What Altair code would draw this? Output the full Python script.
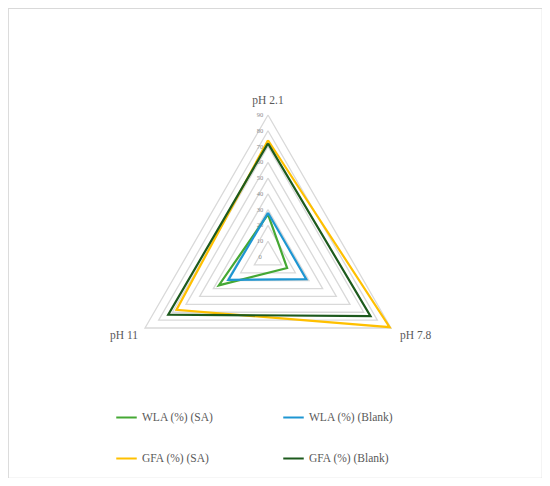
import altair as alt
import pandas as pd

axis_labels = ["pH 2.1", "pH 7.8", "pH 11"]
series_names = ["WLA (%) (SA)", "WLA (%) (Blank)", "GFA (%) (SA)", "GFA (%) (Blank)"]
wla_sa = [27, 14, 36]
wla_blank = [28, 28, 29]
gfa_sa = [74, 89, 67]
gfa_blank = [72, 75, 73]
series_colors = ["#45A834", "#1E96D2", "#FFC000", "#1D5A1D"]
grid_levels = [10, 20, 30, 40, 50, 60, 70, 80, 90]
tick_values = [0, 10, 20, 30, 40, 50, 60, 70, 80, 90]

series_values = [wla_sa, wla_blank, gfa_sa, gfa_blank]

rows = []
for name, vals in zip(series_names, series_values):
    for i in range(len(vals) + 1):
        k = i % len(vals)
        rows.append({"series": name, "order": i, "idx": k, "r": vals[k]})
lines_df = pd.DataFrame(rows)

grows = []
for lv in grid_levels:
    for i in range(4):
        grows.append({"level": lv, "order": i, "idx": i % 3, "r": lv})
grid_df = pd.DataFrame(grows)

ticks_df = pd.DataFrame({"r": tick_values, "label": [str(v) for v in tick_values], "idx": 0})
labels_df = pd.DataFrame({"label": axis_labels, "idx": [0, 1, 2], "r": [90, 90, 90]})

W, H = 534, 470
k = 1.578
cx, cy = 260, 249
xdom = [-cx / k, (W - cx) / k]
ydom = [-(H - cy) / k, cy / k]

xs = alt.Scale(domain=xdom, nice=False, zero=False)
ys = alt.Scale(domain=ydom, nice=False, zero=False)


def polar(ch):
    return ch.transform_calculate(
        ang="datum.idx * 2 * PI / 3",
    ).transform_calculate(
        px="datum.r * sin(datum.ang)",
        py="datum.r * cos(datum.ang)",
    )


grid = polar(alt.Chart(grid_df)).mark_line(color="#D9D9D9", strokeWidth=1.3).encode(
    x=alt.X("px:Q", scale=xs, axis=None),
    y=alt.Y("py:Q", scale=ys, axis=None),
    detail="level:N",
    order="order:Q",
)

ticks = polar(alt.Chart(ticks_df)).mark_text(
    fontSize=6.5, color="#8C8C8C", dx=-8, align="center", baseline="middle", font="Liberation Serif"
).encode(
    x=alt.X("px:Q", scale=xs, axis=None),
    y=alt.Y("py:Q", scale=ys, axis=None),
    text="label:N",
)

lines = polar(alt.Chart(lines_df)).mark_line(strokeWidth=2.2).encode(
    x=alt.X("px:Q", scale=xs, axis=None),
    y=alt.Y("py:Q", scale=ys, axis=None),
    color=alt.Color(
        "series:N",
        scale=alt.Scale(domain=series_names, range=series_colors),
        legend=alt.Legend(
            title=None,
            orient="none",
            legendX=107,
            legendY=398,
            direction="horizontal",
            columns=2,
            columnPadding=65,
            rowPadding=24,
            symbolType="stroke",
            symbolSize=420,
            symbolStrokeWidth=2,
            labelFont="Liberation Serif",
            labelFontSize=11.5,
            labelColor="#595959",
            labelOffset=4,
        ),
    ),
    detail="series:N",
    order="order:Q",
)

label_styles = [
    {"align": "center", "dx": 0, "dy": -14},
    {"align": "left", "dx": 9, "dy": 8},
    {"align": "right", "dx": -7, "dy": 8},
]
label_layers = []
for lab, st in zip(axis_labels, label_styles):
    label_layers.append(
        polar(alt.Chart(labels_df).transform_filter(alt.datum.label == lab)).mark_text(
            font="Liberation Serif", fontSize=11.5, color="#595959", baseline="middle", **st
        ).encode(
            x=alt.X("px:Q", scale=xs, axis=None),
            y=alt.Y("py:Q", scale=ys, axis=None),
            text="label:N",
        )
    )

chart = alt.layer(grid, ticks, lines, *label_layers).properties(
    width=W, height=H, padding=0, autosize=alt.AutoSizeParams(type="none")
).configure_view(stroke="#D9D9D9", strokeWidth=1.2)

chart.save("out.html", embed_options={"renderer": "svg", "actions": False})
